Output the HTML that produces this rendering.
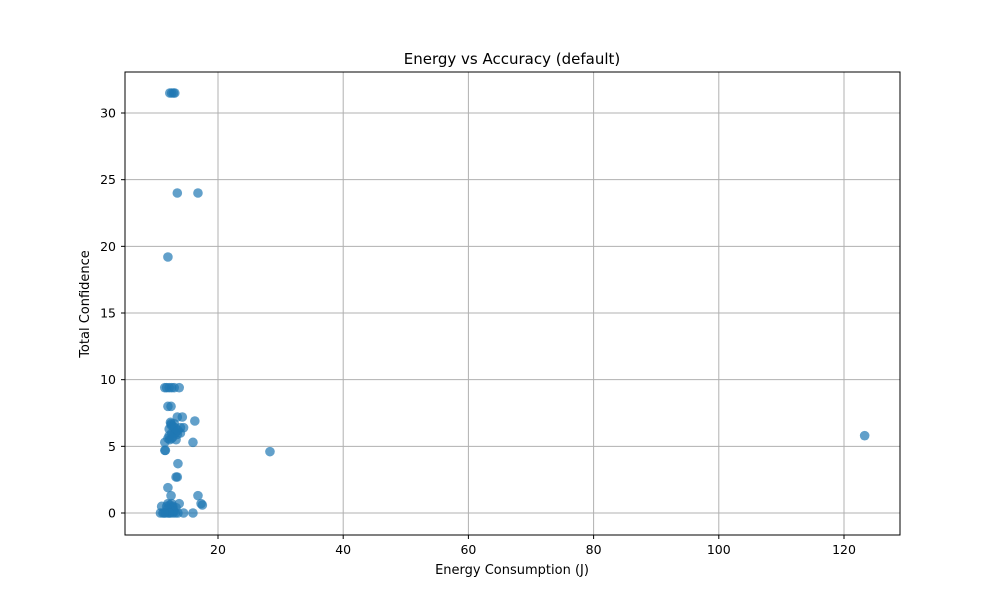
<!DOCTYPE html>
<html><head><meta charset="utf-8"><style>
body{margin:0;background:#fff;font-family:"Liberation Sans","DejaVu Sans",sans-serif}
</style></head><body>
<svg id="chart" width="1000" height="600" xmlns="http://www.w3.org/2000/svg" font-family="DejaVu Sans, Liberation Sans, sans-serif">
<rect width="1000" height="600" fill="#fff"/>
<g id="grid"></g>
<g id="pts"></g>
<rect x="125" y="72" width="775" height="463" fill="none" stroke="#000" stroke-width="1"/>
<g id="ticks" font-size="12.5"></g>
<text x="512" y="64" text-anchor="middle" font-size="15">Energy vs Accuracy (default)</text>
<text x="512" y="574" text-anchor="middle" font-size="13">Energy Consumption (J)</text>
<text transform="translate(89,304) rotate(-90)" text-anchor="middle" font-size="13">Total Confidence</text>
</svg>
<script>
const energy=[12.3,12.6,12.9,13.1,13.5,16.8,12.0,11.5,11.8,12.2,12.6,13.0,13.8,12.0,12.5,12.5,13.0,13.5,14.0,14.3,16.3,12.2,12.6,13.0,13.5,14.0,14.5,12.0,12.3,12.8,13.3,11.5,16.0,12.5,11.5,11.6,13.6,13.3,13.5,12.0,12.5,16.8,13.8,17.3,17.5,11.0,11.8,12.3,12.8,13.3,10.8,11.2,11.6,12.0,12.4,12.8,13.2,13.6,14.5,16.0,28.3,123.3,12.0,12.7,12.4,12.8,13.2,12.2,12.6,13.1,13.6,12.4,12.9,11.9,12.6,13.0,12.2,11.4];
const confidence=[31.5,31.5,31.5,31.5,24.0,24.0,19.2,9.4,9.4,9.4,9.4,9.4,9.4,8.0,8.0,6.7,6.7,7.2,6.4,7.2,6.9,6.3,6.0,6.2,5.9,6.0,6.4,5.6,5.5,5.7,5.5,5.3,5.3,6.6,4.7,4.7,3.7,2.7,2.7,1.9,1.3,1.3,0.7,0.7,0.6,0.5,0.5,0.6,0.5,0.4,0.0,0.0,0.0,0.0,0.0,0.0,0.0,0.0,0.0,0.0,4.6,5.8,0.7,0.4,6.8,6.5,6.0,5.8,5.6,6.4,6.2,0.2,0.2,0.3,0.7,0.1,0.0,0.0];
const xTicks=[20,40,60,80,100,120];
const yTicks=[0,5,10,15,20,25,30];
const X=v=>218+(v-20)*6.26, Y=v=>513-v*13.333;
const NS="http://www.w3.org/2000/svg";
const grid=document.getElementById('grid'),ticks=document.getElementById('ticks'),pts=document.getElementById('pts');
function mk(t,a,p){const e=document.createElementNS(NS,t);for(const k in a)e.setAttribute(k,a[k]);p.appendChild(e);return e;}
xTicks.forEach(t=>{const x=X(t);
 const g=mk('line',{x1:x,x2:x,y1:72,y2:535,stroke:'#b0b0b0','stroke-width':1},grid);
 
 
 mk('line',{x1:x,x2:x,y1:535,y2:539,stroke:'#000'},ticks);
 const l=mk('text',{x:x,y:554,'text-anchor':'middle'},ticks);l.textContent=t;
 
 });
yTicks.forEach(t=>{const y=Y(t);
 const g=mk('line',{x1:125,x2:900,y1:y,y2:y,stroke:'#b0b0b0','stroke-width':1},grid);
 
 
 mk('line',{x1:121,x2:125,y1:y,y2:y,stroke:'#000'},ticks);
 const l=mk('text',{x:116,y:y+4.5,'text-anchor':'end'},ticks);l.textContent=t;
 
 });
energy.forEach((e,i)=>{const c=mk('circle',{cx:X(e),cy:Y(confidence[i]),r:4.8,fill:'#1f77b4','fill-opacity':0.7},pts);
 
 });
</script>
</body></html>
